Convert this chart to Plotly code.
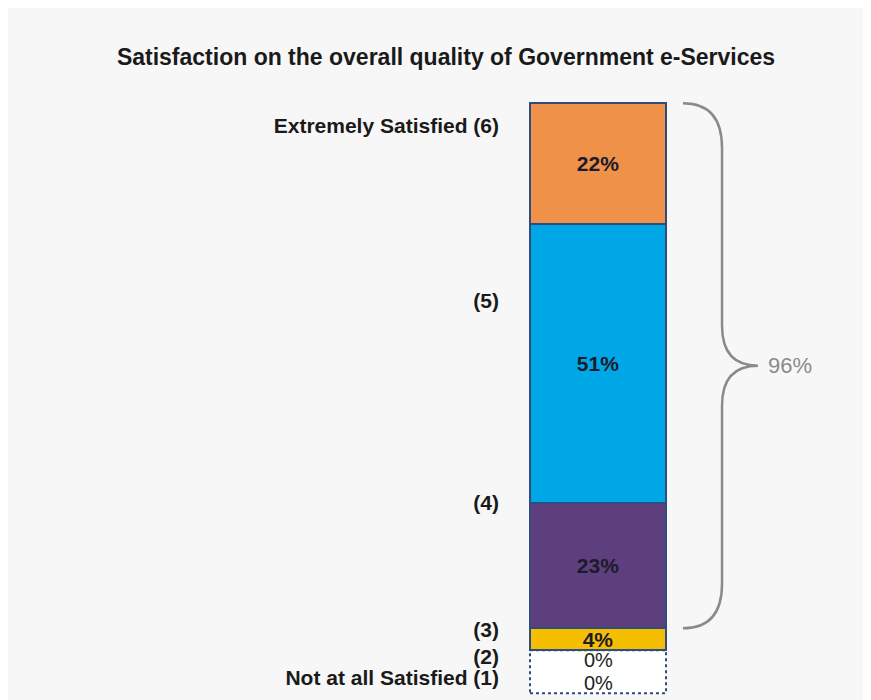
import plotly.graph_objects as go

# ---- data ----
levels = ["Not at all Satisfied (1)", "(2)", "(3)", "(4)", "(5)", "Extremely Satisfied (6)"]
values = [0, 0, 4, 23, 51, 22]          # percent, bottom -> top
colors = ["#FFFFFF", "#FFFFFF", "#F6BE00", "#5C3F7C", "#00A7E7", "#F0914A"]
label_pos = [-5.1, -1.1, 3.7, 26.9, 64.0, 96.0]   # y position of the level labels
title_text = "Satisfaction on the overall quality of Government e-Services"
top_box_total = sum(values[3:])           # 96%

FONT = "Liberation Sans, Arial, sans-serif"
NAVY = "#2E4C7E"
GREY = "#8A8A8A"

# page has an 8px body margin (white strip), so the figure is 8px smaller
W, H = 863, 692
ML, MR, MT, MB = 492, 11, 92, 5
YMIN, YMAX = -8.2, 100.6
XMIN, XMAX = -0.7206, 1.9265

fig = go.Figure()
for lvl, v, c in zip(levels, values, colors):
    if v == 0:
        continue
    fig.add_trace(go.Bar(
        x=[0], y=[v], name=lvl, width=1,
        marker=dict(color=c, line=dict(color=NAVY, width=2)),
        text=[f"{v}%"], textposition="inside", insidetextanchor="middle",
        constraintext="none",
        textfont=dict(family=FONT, size=21, color="#1B1B2B", weight="bold"),
        hoverinfo="skip", showlegend=False,
    ))

# dotted band for the zero-valued levels
zero_band = 7.86
fig.add_shape(type="rect", xref="x", yref="y", x0=-0.5, x1=0.5, y0=-zero_band, y1=0,
              line=dict(color=NAVY, width=2, dash="dot"), fillcolor="#FFFFFF", layer="below")
zero_levels = [v for v in values if v == 0]
zero_text_y = [-6.03, -1.83]
for v, ty in zip(zero_levels, zero_text_y):
    fig.add_annotation(x=0, y=ty, xref="x", yref="y", text=f"{v}%", showarrow=False,
                       font=dict(family=FONT, size=20, color="#222222"))

# curly brace for top-3 box
ybot = sum(values[:3])
ytop = sum(values)
ymid = (ytop + ybot) / 2
x0, xv, xt = 0.625, 0.912, 1.176
r1, r2 = 8.2, 7.3
path = (f"M {x0},{ytop} Q {xv},{ytop} {xv},{ytop - r1} "
        f"L {xv},{ymid + r2} Q {xv},{ymid} {xt},{ymid} "
        f"Q {xv},{ymid} {xv},{ymid - r2} "
        f"L {xv},{ybot + r1} Q {xv},{ybot} {x0},{ybot}")
fig.add_shape(type="path", path=path, xref="x", yref="y",
              line=dict(color=GREY, width=2.5))
fig.add_annotation(x=1.235, y=ymid, xref="x", yref="y", text=f"{top_box_total}%",
                   showarrow=False, xanchor="left",
                   font=dict(family=FONT, size=22, color=GREY))

fig.update_layout(
    width=W, height=H,
    margin=dict(l=ML, r=MR, t=MT, b=MB),
    paper_bgcolor="#F7F7F7", plot_bgcolor="rgba(0,0,0,0)",
    barmode="stack", bargap=0,
    title=dict(text=title_text, x=438 / W, xanchor="center", xref="container",
               y=1 - 49 / H, yanchor="middle", yref="container",
               font=dict(family=FONT, size=23, color="#1A1A1A", weight="bold")),
    xaxis=dict(range=[XMIN, XMAX], visible=False, fixedrange=True),
    yaxis=dict(range=[YMIN, YMAX], showgrid=False, zeroline=False, showline=False,
               tickvals=label_pos, ticktext=levels, ticks="",
               tickfont=dict(family=FONT, size=21, color="#1A1A1A", weight="bold")),
    showlegend=False,
)

fig.write_html("out.html")
